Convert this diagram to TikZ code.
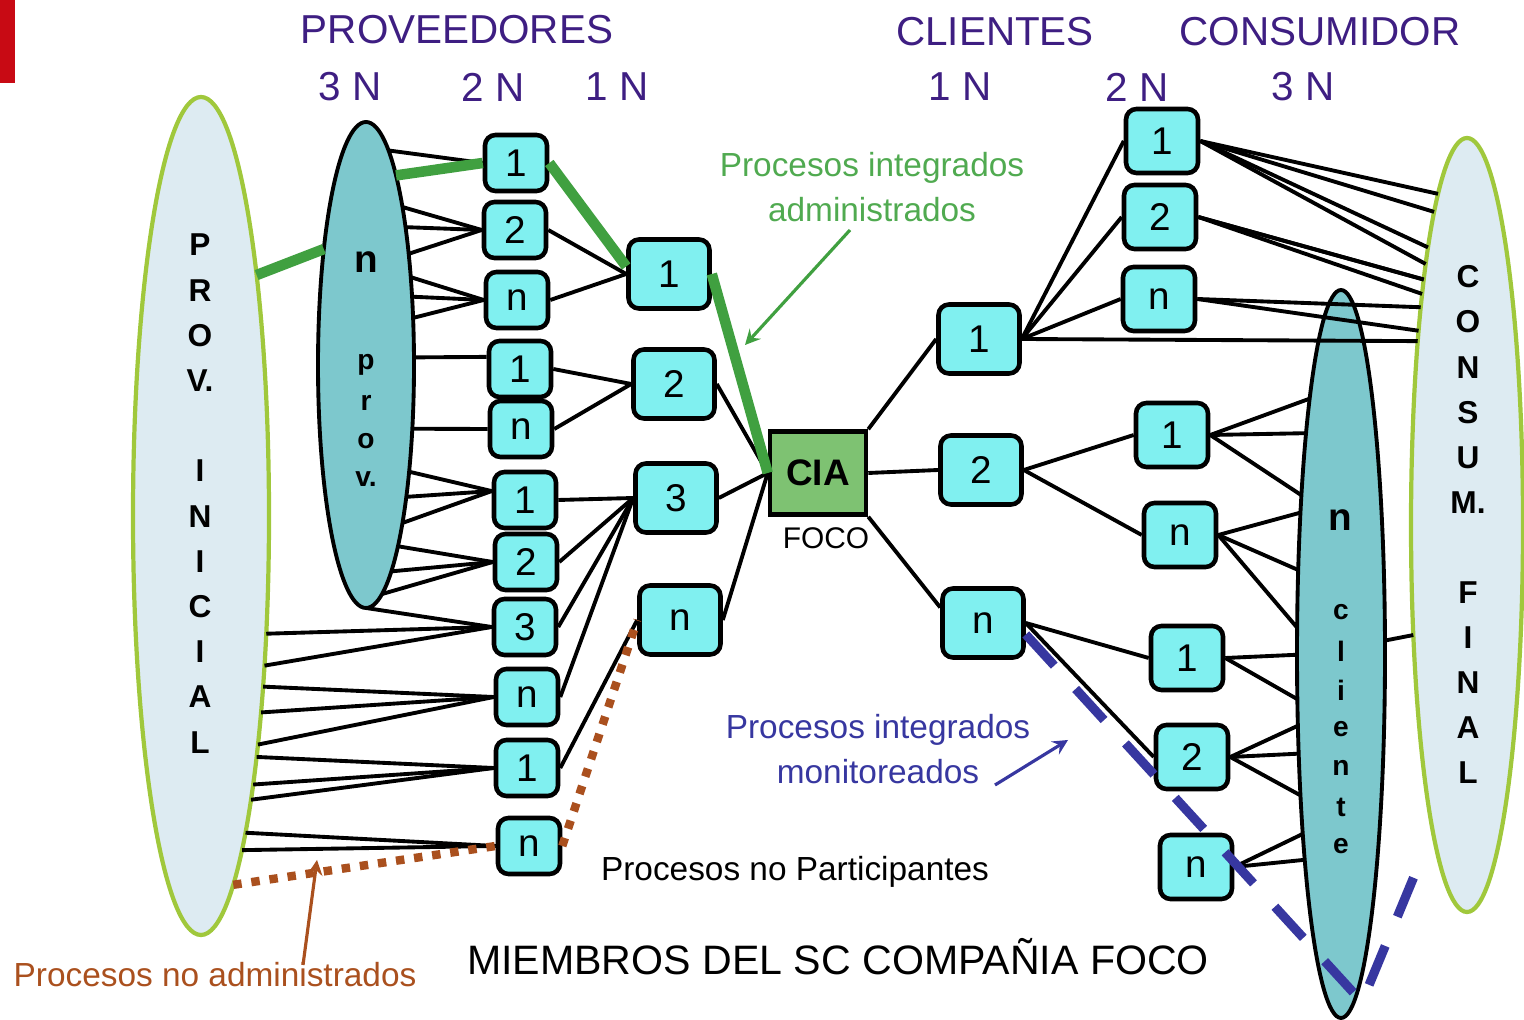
\documentclass[tikz,border=0pt]{standalone}
\usepackage{fontspec}
\setmainfont{Liberation Sans}
\usepackage{tikz}
\usetikzlibrary{arrows,shapes,calc,positioning}
\definecolor{Hdr}{RGB}{62,30,130}
\definecolor{Cyanbox}{RGB}{128,240,240}
\definecolor{Teal}{RGB}{125,200,205}
\definecolor{Pale}{RGB}{221,235,242}
\definecolor{Lime}{RGB}{160,200,60}
\definecolor{Leaf}{RGB}{64,160,64}
\definecolor{LeafTxt}{RGB}{80,170,80}
\definecolor{Foco}{RGB}{126,194,114}
\definecolor{Navy}{RGB}{55,55,160}
\definecolor{Rust}{RGB}{170,80,30}
\definecolor{Brick}{RGB}{200,10,20}
\tikzstyle{link}  =[line width=1.1pt]
\tikzstyle{intg}  =[line width=3pt, draw=Leaf]
\tikzstyle{box}   =[draw, rounded corners=3pt, line width=1.3pt, fill=Cyanbox,
                    minimum width=0.62cm, minimum height=0.56cm, inner sep=0pt,
                    font=\fontsize{11}{13}\selectfont]
\tikzstyle{cbox}  =[box, minimum width=0.72cm, minimum height=0.64cm]
\tikzstyle{bbox}  =[box, minimum width=0.81cm, minimum height=0.69cm]
\tikzstyle{oval}  =[draw, ellipse, inner sep=0pt, outer sep=0pt]
\tikzstyle{hdr}   =[text=Hdr, font=\fontsize{11.5}{14}\selectfont]
\tikzstyle{lbl}   =[align=center, font=\fontsize{9.5}{12.8}\selectfont]
\tikzstyle{vlet}  =[font=\bfseries\fontsize{9}{11}\selectfont]
\tikzstyle{slet}  =[font=\bfseries\fontsize{8}{10}\selectfont]
\tikzstyle{pointer}=[line width=0.9pt, ->, >=stealth]
\begin{document}
\begin{tikzpicture}[x=1cm, y=-1cm]
\useasboundingbox (0,0) rectangle (15.24,10.20);
\fill[Brick] (0,0) rectangle (0.15,0.83);
\node[oval, draw=Lime, line width=1.2pt, fill=Pale, minimum width=1.36cm,
      minimum height=8.38cm] (pe1) at (2.01,5.16) {};
\node[oval, line width=1.1pt, fill=Teal, minimum width=0.96cm,
      minimum height=4.86cm] (pe2) at (3.66,3.65) {};
\node[oval, line width=1.1pt, fill=Teal, minimum width=0.88cm,
      minimum height=7.28cm] (ce2) at (13.41,6.54) {};
\node[oval, draw=Lime, line width=1.2pt, fill=Pale, minimum width=1.12cm,
      minimum height=7.74cm] (ce1) at (14.67,5.25) {};
\foreach \i/\c in {0/P,1/R,2/O,3/V.,5/I,6/N,7/I,8/C,9/I,10/A,11/L}
  \node[vlet] (pl\i) at (2.00,2.45+0.452*\i) {\c};
\foreach \i/\c in {0/C,1/O,2/N,3/S,4/U,5/M.,7/F,8/I,9/N,10/A,11/L}
  \node[vlet] (cl\i) at (14.68,2.77+0.451*\i) {\c};
\node[font=\bfseries\fontsize{11}{13}\selectfont] (pn) at (3.66,2.62) {n};
\foreach \i/\c in {0/p,1/r,2/o,3/v.}
  \node[slet] (pv\i) at (3.66,3.65+0.38*\i) {\c};
\node[font=\bfseries\fontsize{11}{13}\selectfont] (cn) at (13.40,5.20) {n};
\foreach \i/\c in {0/c,1/l,2/i,3/e,4/n,5/t,6/e}
  \node[slet] (cv\i) at (13.41,6.12+0.39*\i) {\c};
\node[hdr] (hp) at (4.57,0.30) {PROVEEDORES};
\node[hdr] (hc) at (9.95,0.32) {CLIENTES};
\node[hdr] (hk) at (13.20,0.32) {CONSUMIDOR};
\foreach \n/\x/\t in {p3/3.50/3 N,p2/4.93/2 N,p1/6.17/1 N,c1/9.60/1 N,c2/11.37/2 N,c3/13.03/3 N}
  \node[hdr] (h\n) at (\x,0.87) {\t};
\foreach \n/\x/\y/\t in {s1/5.16/1.63/1,s2/5.15/2.30/2,s3/5.17/3.00/n,s4/5.20/3.69/1,
    s5/5.21/4.29/n,s6/5.25/5.00/1,s7/5.26/5.62/2,s8/5.25/6.27/3,s9/5.27/6.97/n,
    s10/5.27/7.68/1,s11/5.29/8.46/n}
  \node[box] (\n) at (\x,\y) {\t};
\foreach \n/\x/\y/\t in {t1/6.69/2.74/1,t2/6.74/3.84/2,t3/6.76/4.98/3,t4/6.80/6.20/n,
    c1/9.79/3.39/1,c2/9.81/4.70/2,c3/9.83/6.23/n}
  \node[bbox] (\n) at (\x,\y) {\t};
\foreach \n/\x/\y/\t in {d1/11.62/1.41/1,d2/11.60/2.17/2,d3/11.59/2.99/n,e1/11.72/4.35/1,
    e2/11.80/5.35/n,e3/11.87/6.58/1,e4/11.92/7.57/2,e5/11.96/8.67/n}
  \node[cbox] (\n) at (\x,\y) {\t};
\node[draw, line width=1.3pt, fill=Foco, minimum width=0.96cm, minimum height=0.83cm,
      font=\bfseries\fontsize{10.5}{12}\selectfont] (cia) at (8.18,4.73) {CIA};
\node[font=\fontsize{8.5}{10}\selectfont] (foco) at (8.26,5.38) {FOCO};
\foreach \a/\b in {84.3/s1,77/s2,74.4/s2,69.8/s2,63.6/s3,56.7/s3,45.6/s3,306.4/s5,
    280.8/s7,277.8/s7,274.9/s7,270/s8}
  \draw[link] (pe2.\a) -- (\b.west);
\draw[link] (pe2.9.5) -- (s4.160);
\foreach \a in {292.4,287.1,283.7}
  \draw[link] (pe2.\a) -- (s6.165);
\foreach \a/\b in {299.2/s8,293.1/s8,290.1/s9,287.4/s9,284.8/s9,283.3/s10,281.9/s10,
    280.1/s10,278.6/s11,277.1/s11}
  \draw[link] (pe1.\a) -- (\b.west);
\foreach \a/\b in {s2/t1,s3/t1,s4/t2,s5/t2,s6/t3,s7/t3,s8/t3,s9/t3,s10/t4}
  \draw[link] (\a.east) -- (\b.west);
\foreach \a in {t2,t3,t4}
  \draw[link] (\a.east) -- (cia.west);
\draw[link] (cia.north east) -- (c1.west);
\draw[link] (cia.east) -- (c2.west);
\draw[link] (cia.south east) -- (c3.160);
\foreach \a/\b in {c1/d1,c1/d2,c1/d3,c2/e1,c2/e2,c3/e3,c3/e4}
  \draw[link] (\a.east) -- (\b.west);
\draw[link] (c1.east) -- (ce1.105.8);
\foreach \a/\b in {d1/95.2,d1/96.8,d1/98.3,d1/99.6,d2/100,d2/100.5,d2/101,d3/102,d3/104.2}
  \draw[link] (\a.east) -- (ce1.\b);
\foreach \a/\b in {e1/97.2,e1/99.9,e1/104.1,e2/106.6,e2/117.9,e2/149.4,e3/181,e3/226.5,
    e4/239.8,e4/247.9,e4/254.9,e5/258.1,e5/260.6}
  \draw[link] (\a.east) -- (ce2.\b);
\draw[link] (ce2.17.6) -- (ce1.244.7);
\draw[intg] (pe1.77.5) -- (pe2.110.8);
\draw[intg] (pe2.81) -- (s1.west);
\draw[intg] (s1.east) -- (t1.170);
\draw[intg] (t1.east) -- (cia.west);
\draw[Rust, line width=2.4pt, dash pattern=on 2.4pt off 2.8pt]
  (pe1.275.7) -- (s11.west) (s11.east) -- (t4.west);
\coordinate (mv) at (13.62,10.02);
\coordinate (mw) at (14.20,8.62);
\draw[Navy, line width=2.6pt, dash pattern=on 12pt off 9pt] (c3.345) -- (mv) -- (mw);
\node[lbl, text=LeafTxt] (gl) at (8.72,1.87) {Procesos integrados\\administrados};
\node[lbl, text=Navy] (bl) at (8.78,7.495) {Procesos integrados\\monitoreados};
\node[lbl] (np) at (7.95,8.72) {Procesos no Participantes};
\node[lbl, text=Rust] (ra) at (2.15,9.75) {Procesos no administrados};
\node[font=\fontsize{11.7}{14}\selectfont] (tt) at (8.38,9.57) {MIEMBROS DEL SC COMPAÑIA FOCO};
\coordinate (ga0) at (8.50,2.30);
\coordinate (ga1) at (7.45,3.45);
\coordinate (ba0) at (9.95,7.85);
\coordinate (ba1) at (10.68,7.40);
\coordinate (ra0) at (3.03,9.65);
\coordinate (ra1) at (3.17,8.60);
\draw[pointer, Leaf] (ga0) -- (ga1);
\draw[pointer, Navy] (ba0) -- (ba1);
\draw[pointer, Rust] (ra0) -- (ra1);
\end{tikzpicture}
\end{document}
